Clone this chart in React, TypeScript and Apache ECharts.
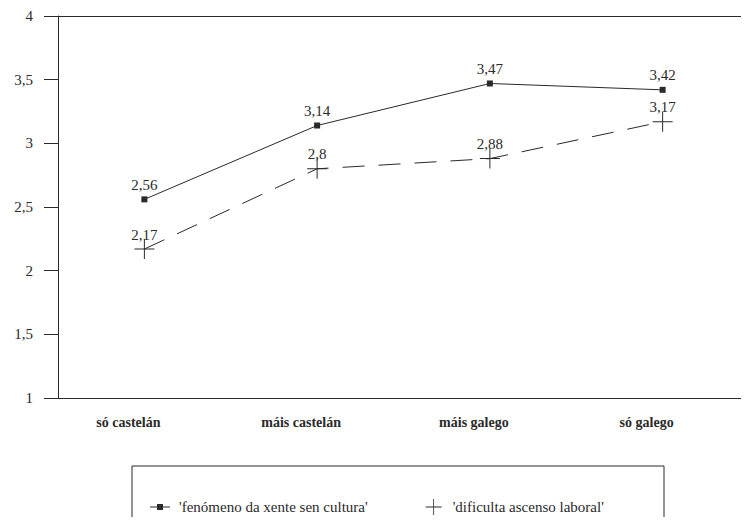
import React, { useEffect, useRef } from "react";
import * as echarts from "echarts";

const categories = ["só castelán", "máis castelán", "máis galego", "só galego"];
const seriesNames = ["'fenómeno da xente sen cultura'", "'dificulta ascenso laboral'"];
const fenomeno = [2.56, 3.14, 3.47, 3.42];
const dificulta = [2.17, 2.8, 2.88, 3.17];
const yTicks = [1, 1.5, 2, 2.5, 3, 3.5, 4];

const FONT = "'Liberation Serif', 'Times New Roman', serif";
const INK = "#2a2a2a";
const PLUS = "path://M0,9.5H20V10.5H0Z M9.5,0H10.5V20H9.5Z";
const LINESQ = "path://M0,4.6H7V2H13V4.6H20V5.4H13V8H7V5.4H0Z";

export default function App() {
  const ref = useRef<HTMLDivElement>(null);
  useEffect(() => {
    if (!ref.current) return;
    const chart = echarts.init(ref.current, null, { renderer: "svg" });
    const fmt = (v: number) => String(v).replace(".", ",");
    chart.setOption({
      animation: false,
      backgroundColor: "#ffffff",
      textStyle: { fontFamily: FONT, color: INK },
      grid: { left: 58, width: 696, top: 16, bottom: 127 },
      legend: {
        left: 145,
        top: 494,
        itemGap: 58,
        itemWidth: 20,
        itemHeight: 16,
        textStyle: { fontFamily: FONT, fontSize: 15, color: INK, padding: [0, 0, 0, 4] },
        data: [
          { name: seriesNames[0], icon: LINESQ, itemStyle: { color: INK } },
          { name: seriesNames[1], icon: PLUS, itemStyle: { color: INK } },
        ],
      },
      graphic: [
        {
          type: "rect",
          shape: { x: 132, y: 466, width: 532, height: 100 },
          style: { fill: "none", stroke: INK, lineWidth: 1 },
          silent: true,
        },
      ],
      xAxis: [
        {
          type: "category",
          data: categories,
          boundaryGap: true,
          axisLine: { lineStyle: { color: INK, width: 1 } },
          axisTick: { alignWithLabel: true, length: 6, lineStyle: { color: INK } },
          axisLabel: {
            fontFamily: FONT,
            fontSize: 14,
            color: INK,
            fontWeight: "bold",
            margin: 17,
            padding: [0, 32, 0, 0],
          },
        },
        {
          type: "category",
          data: categories,
          position: "top",
          axisLine: { lineStyle: { color: INK, width: 1 } },
          axisTick: { show: false },
          axisLabel: { show: false },
        },
      ],
      yAxis: {
        type: "value",
        min: yTicks[0],
        max: yTicks[yTicks.length - 1],
        interval: 0.5,
        axisLine: { show: true, lineStyle: { color: INK, width: 1 } },
        axisTick: { show: true, length: 14, lineStyle: { color: INK } },
        splitLine: { show: false },
        axisLabel: {
          fontFamily: FONT,
          fontSize: 15,
          color: INK,
          margin: 25,
          formatter: (v: number) => fmt(v),
        },
      },
      series: [
        {
          name: seriesNames[0],
          type: "line",
          data: fenomeno,
          symbol: "rect",
          symbolSize: 6,
          itemStyle: { color: INK },
          lineStyle: { color: INK, width: 1 },
          label: {
            show: true,
            position: "top",
            distance: 4,
            fontFamily: FONT,
            fontSize: 15,
            color: INK,
            formatter: (p: any) => fmt(p.value),
          },
        },
        {
          name: seriesNames[1],
          type: "line",
          data: dificulta,
          symbol: PLUS,
          symbolSize: 20,
          itemStyle: { color: INK },
          lineStyle: { color: INK, width: 1, type: [22, 14] },
          label: {
            show: true,
            position: "top",
            distance: -3,
            fontFamily: FONT,
            fontSize: 15,
            color: INK,
            formatter: (p: any) => fmt(p.value),
          },
        },
      ],
    });
    return () => chart.dispose();
  }, []);
  return <div ref={ref} style={{ width: 749, height: 525, margin: -8 }} />;
}
